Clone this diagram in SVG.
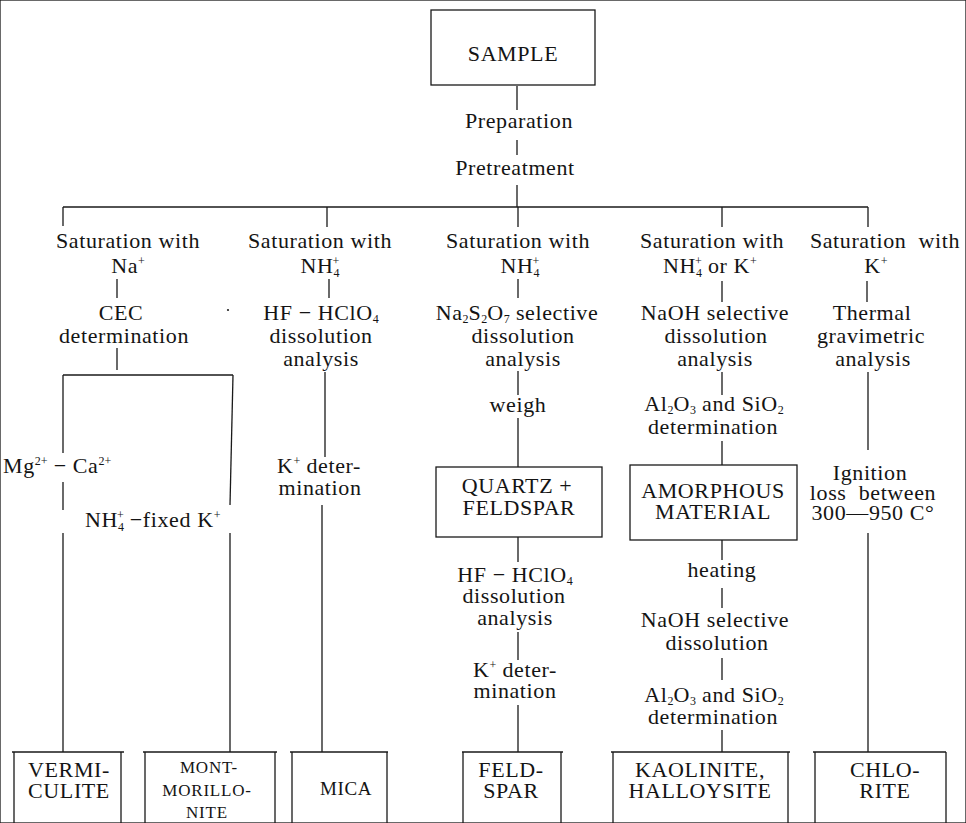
<svg xmlns="http://www.w3.org/2000/svg" width="966" height="823" viewBox="0 0 966 823">
<style>
text{font-family:"Liberation Serif","Times New Roman",serif;font-size:22px;letter-spacing:0.6px;fill:#141414;text-anchor:middle}
.st{text-anchor:start}
.sm{font-size:17px;letter-spacing:0.8px}
.md{font-size:19px;letter-spacing:0.6px}
.s{font-size:12px;letter-spacing:0}
line,path,rect{stroke:#1a1a1a;stroke-width:1.3;fill:none}
</style>
<rect width="966" height="823" fill="#fff" stroke="none"/>
<g id="connectors">
<line x1="517" y1="86" x2="517" y2="110"/>
<line x1="517" y1="140" x2="517" y2="155"/>
<line x1="517" y1="185" x2="517" y2="207"/>
<line x1="63" y1="207" x2="868" y2="207"/>
<line x1="63" y1="207" x2="63" y2="226"/>
<line x1="327" y1="207" x2="327" y2="227"/>
<line x1="518" y1="207" x2="518" y2="227"/>
<line x1="722" y1="207" x2="722" y2="227"/>
<line x1="868" y1="207" x2="868" y2="227"/>
<line x1="117" y1="279" x2="117" y2="298"/>
<line x1="117" y1="348" x2="117" y2="370"/>
<line x1="63" y1="375" x2="233" y2="375"/>
<line x1="63" y1="375" x2="63" y2="453"/>
<line x1="63" y1="482" x2="63" y2="510"/>
<line x1="63" y1="533" x2="63" y2="752"/>
<line x1="233" y1="375" x2="230" y2="505"/>
<line x1="230" y1="533" x2="230" y2="752"/>
<line x1="329" y1="279" x2="329" y2="298"/>
<line x1="325" y1="372" x2="325" y2="457"/>
<line x1="322" y1="505" x2="322" y2="752"/>
<line x1="518" y1="279" x2="518" y2="298"/>
<line x1="518" y1="371" x2="518" y2="395"/>
<line x1="518" y1="418" x2="518" y2="467"/>
<line x1="518" y1="537" x2="518" y2="562"/>
<line x1="518" y1="632" x2="518" y2="660"/>
<line x1="518" y1="705" x2="518" y2="752"/>
<line x1="722" y1="281" x2="722" y2="302"/>
<line x1="722" y1="372" x2="722" y2="395"/>
<line x1="722" y1="441" x2="722" y2="465"/>
<line x1="722" y1="540" x2="722" y2="560"/>
<line x1="722" y1="588" x2="722" y2="608"/>
<line x1="722" y1="658" x2="722" y2="680"/>
<line x1="722" y1="730" x2="722" y2="752"/>
<line x1="867" y1="281" x2="867" y2="302"/>
<line x1="868" y1="372" x2="868" y2="450"/>
<line x1="868" y1="533" x2="868" y2="752"/>
</g>
<g id="sample"><rect x="431" y="10" width="164" height="75"/><text x="513" y="61">SAMPLE</text></g>
<g id="prep"><text x="519" y="128">Preparation</text></g>
<g id="pretreat"><text x="515" y="175">Pretreatment</text></g>
<g id="col1">
<text x="128" y="248">Saturation with</text>
<text x="128" y="273">Na<tspan class="s" dy="-8">+</tspan></text>
<text x="121" y="320">CEC</text>
<text x="124" y="343">determination</text>
<circle cx="228" cy="310" r="1.1" fill="#222"/>
</g>
<g id="mgca"><text class="st" x="3" y="473">Mg<tspan class="s" dy="-8">2+</tspan><tspan dy="8"> − Ca</tspan><tspan class="s" dy="-8">2+</tspan></text></g>
<g id="nh4k"><text class="st" x="85" y="527">NH<tspan class="s" dy="4">4</tspan><tspan class="s" dx="-7" dy="-12">+</tspan><tspan dy="8"> −fixed K</tspan><tspan class="s" dy="-8">+</tspan></text></g>
<g id="col2">
<text x="320" y="248">Saturation with</text>
<text x="320" y="273">NH<tspan class="s" dy="4">4</tspan><tspan class="s" dx="-7" dy="-12">+</tspan></text>
<text x="321" y="320">HF − HClO<tspan class="s" dy="3">4</tspan></text>
<text x="321" y="343">dissolution</text>
<text x="321" y="366">analysis</text>
<text x="319" y="473">K<tspan class="s" dy="-8">+</tspan><tspan dy="8"> deter-</tspan></text>
<text x="320" y="495">mination</text>
</g>
<g id="col3">
<text x="518" y="248">Saturation with</text>
<text x="520" y="273">NH<tspan class="s" dy="4">4</tspan><tspan class="s" dx="-7" dy="-12">+</tspan></text>
<text x="517" y="320">Na<tspan class="s" dy="3">2</tspan><tspan dy="-3">S</tspan><tspan class="s" dy="3">2</tspan><tspan dy="-3">O</tspan><tspan class="s" dy="3">7</tspan><tspan dy="-3"> selective</tspan></text>
<text x="523" y="343">dissolution</text>
<text x="523" y="366">analysis</text>
<text x="518" y="412">weigh</text>
</g>
<g id="quartz"><rect x="436" y="467" width="166" height="70"/><text x="517" y="493">QUARTZ +</text><text x="519" y="515">FELDSPAR</text></g>
<g id="col3b">
<text x="515" y="582">HF − HClO<tspan class="s" dy="3">4</tspan></text>
<text x="514" y="603">dissolution</text>
<text x="515" y="625">analysis</text>
<text x="515" y="677">K<tspan class="s" dy="-8">+</tspan><tspan dy="8"> deter-</tspan></text>
<text x="515" y="698">mination</text>
</g>
<g id="col4">
<text x="712" y="248">Saturation with</text>
<text x="710" y="273">NH<tspan class="s" dy="4">4</tspan><tspan class="s" dx="-7" dy="-12">+</tspan><tspan dy="8">  or K</tspan><tspan class="s" dy="-8">+</tspan></text>
<text x="715" y="320">NaOH selective</text>
<text x="716" y="343">dissolution</text>
<text x="715" y="366">analysis</text>
<text x="714" y="411">Al<tspan class="s" dy="3">2</tspan><tspan dy="-3">O</tspan><tspan class="s" dy="3">3</tspan><tspan dy="-3"> and SiO</tspan><tspan class="s" dy="3">2</tspan></text>
<text x="713" y="434">determination</text>
</g>
<g id="amorph"><rect x="630" y="465" width="167" height="75"/><text x="713" y="498">AMORPHOUS</text><text x="713" y="519">MATERIAL</text></g>
<g id="col4b">
<text x="722" y="577">heating</text>
<text x="715" y="627">NaOH selective</text>
<text x="717" y="650">dissolution</text>
<text x="714" y="702">Al<tspan class="s" dy="3">2</tspan><tspan dy="-3">O</tspan><tspan class="s" dy="3">3</tspan><tspan dy="-3"> and SiO</tspan><tspan class="s" dy="3">2</tspan></text>
<text x="713" y="724">determination</text>
</g>
<g id="col5">
<text x="885" y="248" xml:space="preserve">Saturation  with</text>
<text x="876" y="273">K<tspan class="s" dy="-8">+</tspan></text>
<text x="872" y="320">Thermal</text>
<text x="871" y="343">gravimetric</text>
<text x="873" y="366">analysis</text>
<text x="870" y="480">Ignition</text>
<text x="873" y="500" xml:space="preserve">loss  between</text>
<text x="873" y="520">300—950 C°</text>
</g>
<g id="vermiculite"><path d="M12 752H124M14 752V823M121 752V823"/><text x="69" y="777">VERMI-</text><text x="69" y="798">CULITE</text></g>
<g id="montmorillonite"><path d="M143 752H277M145 752V823M275 752V823"/><text class="sm" x="209" y="773">MONT-</text><text class="sm" x="207" y="796">MORILLO-</text><text class="sm" x="207" y="818">NITE</text></g>
<g id="mica"><path d="M290 752H388M292 752V823M387 752V823"/><text class="md" x="346" y="795">MICA</text></g>
<g id="feldspar"><path d="M462 752H563M463 752V823M561 752V823"/><text x="511" y="777">FELD-</text><text x="511" y="798">SPAR</text></g>
<g id="kaolinite"><path d="M611 752H790M613 752V823M788 752V823"/><text x="700" y="777">KAOLINITE,</text><text x="700" y="798">HALLOYSITE</text></g>
<g id="chlorite"><path d="M813 752H946M815 752V823M946 752V823"/><text x="885" y="777">CHLO-</text><text x="885" y="798">RITE</text></g>
</svg>
